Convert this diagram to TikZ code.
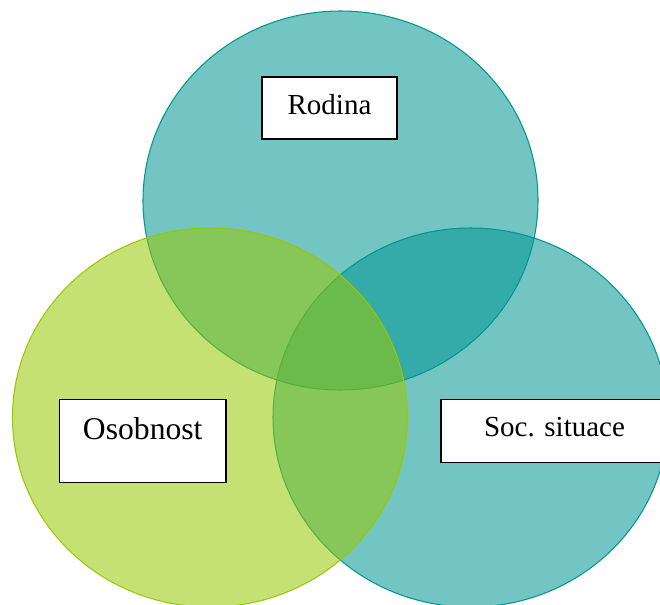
\documentclass[tikz,border=0pt]{standalone}
\usepackage{fontspec}
\setmainfont{Liberation Serif}
\usepackage{xcolor}
\usepackage{tikz}
\definecolor{rodinateal}{RGB}{0,150,146}
\definecolor{osobgreen}{RGB}{152,200,0}
\tikzset{
  venn/.style={fill=#1, fill opacity=0.55, draw=#1, line width=0.6pt},
  labelbox/.style={draw=black, line width=1pt, fill=white, text=black, inner sep=0pt,
    text height=0.5cm, font=\fontsize{16.5}{20}\selectfont}
}

\begin{document}
\begin{tikzpicture}
\useasboundingbox (0,0) rectangle (13.2,12.08);
\clip (0,0) rectangle (13.2,12.08);

% Circles
\draw[venn=rodinateal] (6.81,8.07) ellipse (3.95 and 3.79);
\draw[venn=rodinateal] (9.41,3.73) ellipse (3.95 and 3.79);
\draw[venn=osobgreen] (4.2,3.73) ellipse (3.95 and 3.79);

% Labels
\node[labelbox, minimum width=2.7cm, minimum height=1.24cm, text depth=0.24cm] (rodina) at (6.59,9.92) {Rodina};
\node[labelbox, minimum width=3.33cm, minimum height=1.66cm, text depth=0.58cm,
  font=\fontsize{18}{21}\selectfont] (osobnost) at (2.855,3.26) {Osobnost};
\node[labelbox, minimum width=4.54cm, minimum height=1.26cm, text depth=0.28cm] (situace) at (11.09,3.46) {Soc. situace};
\end{tikzpicture}
\end{document}
